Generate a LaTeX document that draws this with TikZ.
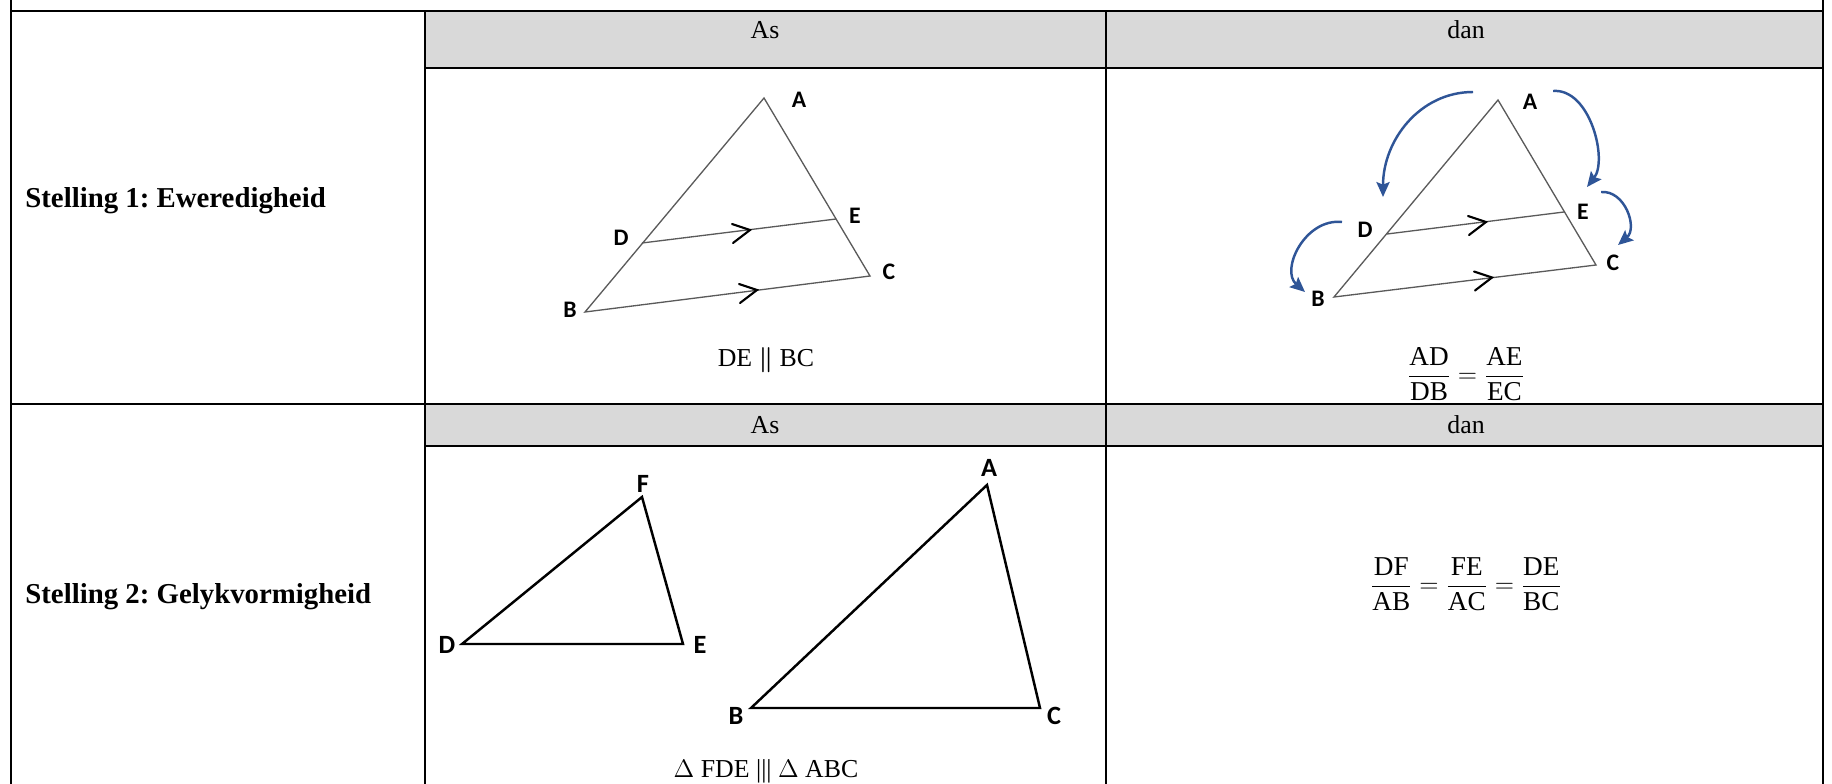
\documentclass[tikz,border=0pt]{standalone}
\usepackage{fontspec}
\usepackage{amsmath}
\setmainfont{Liberation Serif}
\newfontfamily\labelfont{Carlito}
\usetikzlibrary{arrows.meta}
\definecolor{headgray}{HTML}{D9D9D9}
\definecolor{arcblue}{HTML}{2F5597}
\definecolor{sidegray}{HTML}{5A5A5A}
\frenchspacing

\begin{document}
\begin{tikzpicture}[x=0.02cm, y=-0.02cm,
  every node/.style={font=\fontsize{14.7}{17}\selectfont, inner sep=0pt},
  tableline/.style={line width=1.1pt},
  vlabel/.style={font=\labelfont\bfseries\fontsize{13.5}{16}\selectfont},
  biglabel/.style={font=\labelfont\bfseries\fontsize{15}{18}\selectfont},
  ratiotext/.style={font=\fontsize{15.5}{18}\selectfont},
  thinside/.style={draw=sidegray, line width=0.75pt},
  boldside/.style={line width=1.4pt},
  chev/.style={line width=1.2pt, line cap=round},
  ratioarrow/.style={arcblue, line width=1.4pt, -{Stealth[length=8.5pt, width=7.5pt, inset=1.5pt]}},
  stelling/.style={anchor=base west, font=\bfseries\fontsize{16.4}{20}\selectfont}]
\useasboundingbox (0,0) rectangle (1832,784);

\node[ratiotext] (ratio1) at (1466,374)
{$\dfrac{\textrm{AD}}{\textrm{DB}}=\dfrac{\textrm{AE}}{\textrm{EC}}$};

\fill[headgray] (425,11) rectangle (1823,68);
\fill[headgray] (425,404) rectangle (1823,446);

\node[anchor=base] (as1) at (765,39) {As};
\node[anchor=base] (dan1) at (1466,39) {dan};
\node[anchor=base] (as2) at (765,433) {As};
\node[anchor=base] (dan2) at (1466,433) {dan};

\node[stelling] (stel1) at (25,207.5) {Stelling 1: Eweredigheid};
\node[stelling] (stel2) at (25,603) {Stelling 2: Gelykvormigheid};

\coordinate (A1) at (764,98);
\coordinate (B1) at (585,312);
\coordinate (C1) at (870,276);
\coordinate (D1) at (642,243);
\coordinate (E1) at (836,219);
\draw[thinside] (A1) -- (B1) -- (C1) -- cycle;
\draw[thinside] (D1) -- (E1);
\coordinate (m1) at (750,230);
\coordinate (n1) at (757,290);
\draw[chev] (m1) ++(-18,-6) -- (m1) -- ++(-17,13);
\draw[chev] (n1) ++(-18,-6) -- (n1) -- ++(-17,13);
\node[vlabel] (la1) at (799,99.5) {A};
\node[vlabel] (lb1) at (570,310) {B};
\node[vlabel] (lc1) at (889,272) {C};
\node[vlabel] (ld1) at (621,238) {D};
\node[vlabel] (le1) at (855,215.5) {E};
\node[anchor=base] (par1) at (766,366) {DE~$\boldsymbol{\parallel}$~BC};

\coordinate (A2) at (1498,100);
\coordinate (B2) at (1334,297);
\coordinate (C2) at (1596,265);
\coordinate (D2) at (1387,234);
\coordinate (E2) at (1564,212);
\draw[thinside] (A2) -- (B2) -- (C2) -- cycle;
\draw[thinside] (D2) -- (E2);
\coordinate (m2) at (1486,222);
\coordinate (n2) at (1492,277.5);
\draw[chev] (m2) ++(-18,-6) -- (m2) -- ++(-17,13);
\draw[chev] (n2) ++(-18,-6) -- (n2) -- ++(-17,13);
\node[vlabel] (la2) at (1530,102) {A};
\node[vlabel] (lb2) at (1318,298.5) {B};
\node[vlabel] (lc2) at (1613,262.5) {C};
\node[vlabel] (ld2) at (1365,230) {D};
\node[vlabel] (le2) at (1583,211.5) {E};

\coordinate (s1) at (1473,92);
\coordinate (e1) at (1383,197);
\coordinate (s2) at (1553,91);
\coordinate (e2) at (1587,187);
\coordinate (s3) at (1601,192);
\coordinate (e3) at (1618,245);
\coordinate (s4) at (1342,222);
\coordinate (e4) at (1305,292);
\draw[ratioarrow] (s1) .. controls (1420,92) and (1383,140) .. (e1);
\draw[ratioarrow] (s2) .. controls (1590,88) and (1608,160) .. (e2);
\draw[ratioarrow] (s3) .. controls (1625,190) and (1638,228) .. (e3);
\draw[ratioarrow] (s4) .. controls (1305,218) and (1280,270) .. (e4);

\coordinate (F3) at (642,497);
\coordinate (D3) at (462,644);
\coordinate (E3) at (683,644);
\coordinate (A3) at (987,485);
\coordinate (B3) at (751,708);
\coordinate (C3) at (1040,708);
\draw[boldside] (F3) -- (D3) -- (E3) -- cycle;
\draw[boldside] (A3) -- (B3) -- (C3) -- cycle;
\node[biglabel] (lf3) at (643,484) {F};
\node[biglabel] (ld3) at (447,645) {D};
\node[biglabel] (le3) at (700,645) {E};
\node[biglabel] (la3) at (989,468) {A};
\node[biglabel] (lb3) at (736,716) {B};
\node[biglabel] (lc3) at (1054,716) {C};
\node[anchor=base] (sim3) at (766,777) {$\Delta$ FDE ||| $\Delta$ ABC};

\node[ratiotext] (ratio2) at (1466,584)
{$\dfrac{\textrm{DF}}{\textrm{AB}}=\dfrac{\textrm{FE}}{\textrm{AC}}=\dfrac{\textrm{DE}}{\textrm{BC}}$};

\draw[tableline] (11,0) -- (11,784);
\draw[tableline] (1823,0) -- (1823,784);
\draw[tableline] (11,11) -- (1823,11);
\draw[tableline] (11,404) -- (1823,404);
\draw[tableline] (425,11) -- (425,784);
\draw[tableline] (1106,11) -- (1106,784);
\draw[tableline] (425,68) -- (1823,68);
\draw[tableline] (425,446) -- (1823,446);
\end{tikzpicture}
\end{document}
